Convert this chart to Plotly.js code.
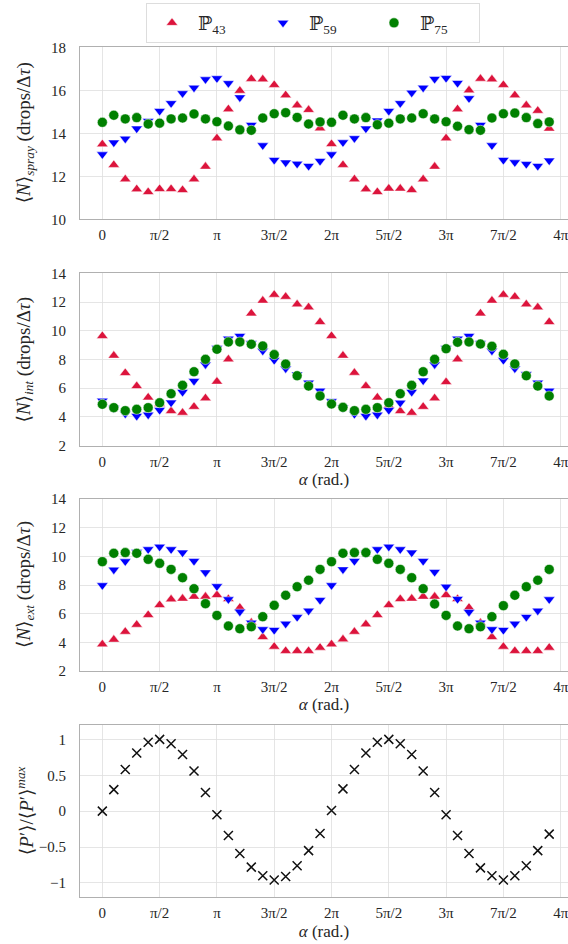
<!DOCTYPE html>
<html>
<head>
<meta charset="utf-8">
<script src="https://cdn.plot.ly/plotly-3.0.1.min.js"></script>
<style>
html,body{margin:0;padding:0;background:#fff;overflow:hidden;}
#chart{width:568px;height:944px;}
</style>
</head>
<body>
<div id="chart"></div>
<script>
// phase angle alpha, in tenths of pi
const alphaTenthsPi = [0,1,2,3,4,5,6,7,8,9,10,11,12,13,14,15,16,17,18,19,20,21,22,23,24,25,26,27,28,29,30,31,32,33,34,35,36,37,38,39];
const seriesNames = ["ℙ<sub>43</sub>", "ℙ<sub>59</sub>", "ℙ<sub>75</sub>"];

// <N>_spray
const spray43 = [13.49,12.53,11.86,11.40,11.27,11.41,11.41,11.36,11.86,12.45,13.77,15.12,15.98,16.53,16.51,16.25,15.77,15.30,15.09,14.23,13.50,12.53,11.86,11.40,11.27,11.43,11.43,11.36,11.86,12.45,13.77,15.12,16.00,16.54,16.51,16.25,15.77,15.30,15.05,14.22];
const spray59 = [13.02,13.57,13.75,14.22,14.57,15.04,15.40,15.86,16.12,16.51,16.56,16.33,15.67,14.39,13.44,12.76,12.64,12.58,12.48,12.71,13.02,13.58,13.77,14.22,14.59,15.04,15.40,15.89,16.12,16.53,16.57,16.34,15.63,14.39,13.44,12.76,12.65,12.57,12.48,12.73];
const spray75 = [14.51,14.84,14.67,14.73,14.43,14.47,14.67,14.71,14.90,14.67,14.54,14.34,14.16,14.14,14.71,14.91,14.96,14.74,14.43,14.53,14.51,14.84,14.67,14.73,14.40,14.47,14.67,14.71,14.91,14.67,14.54,14.33,14.17,14.14,14.71,14.91,14.94,14.73,14.45,14.53];

// <N>_int
const int43 = [9.64,8.27,7.06,6.15,5.36,4.90,4.41,4.30,4.71,5.30,6.46,8.01,9.45,11.21,12.10,12.51,12.37,11.84,11.63,10.61,9.64,8.27,7.08,6.15,5.36,4.78,4.41,4.30,4.71,5.30,6.43,8.01,9.40,11.21,12.10,12.51,12.37,11.84,11.63,10.61];
const int59 = [5.13,4.60,4.23,4.07,4.16,4.48,5.00,5.74,6.50,7.66,8.80,9.45,9.64,9.13,8.61,7.96,7.38,6.95,6.39,5.83,5.09,4.65,4.20,4.07,4.16,4.48,4.99,5.74,6.53,7.66,8.78,9.45,9.64,9.13,8.61,7.96,7.38,6.97,6.39,5.83];
const int75 = [4.88,4.65,4.44,4.53,4.65,4.99,5.62,6.20,7.15,8.01,8.71,9.22,9.22,9.06,8.94,8.34,7.68,6.87,6.15,5.46,4.90,4.67,4.44,4.53,4.65,4.99,5.62,6.20,7.15,8.01,8.75,9.20,9.22,9.08,8.92,8.36,7.69,6.87,6.15,5.46];

// <N>_ext
const ext43 = [3.86,4.19,4.74,5.23,5.91,6.60,7.00,7.05,7.19,7.19,7.30,7.02,6.42,5.38,4.37,3.70,3.40,3.40,3.40,3.63,3.86,4.21,4.74,5.26,5.91,6.60,7.02,7.05,7.19,7.19,7.30,7.02,6.42,5.37,4.37,3.70,3.40,3.40,3.40,3.63];
const ext59 = [7.98,9.07,9.65,10.30,10.49,10.67,10.49,10.26,9.67,8.88,7.91,7.00,6.14,5.37,4.91,4.86,5.30,5.76,6.21,6.95,7.98,9.09,9.67,10.21,10.49,10.67,10.49,10.26,9.67,8.91,7.88,7.02,6.12,5.37,4.91,4.86,5.30,5.77,6.21,7.00];
const ext75 = [9.63,10.21,10.26,10.21,9.79,9.51,9.09,8.51,7.74,6.70,5.88,5.14,4.95,5.09,5.79,6.58,7.28,7.88,8.33,9.09,9.63,10.21,10.26,10.26,9.79,9.51,9.09,8.51,7.74,6.67,5.88,5.14,4.95,5.09,5.79,6.56,7.28,7.88,8.33,9.09];

// <P'>/<P'>max
const pNorm = [0.00,0.30,0.58,0.81,0.96,1.00,0.94,0.79,0.56,0.26,-0.05,-0.34,-0.59,-0.78,-0.90,-0.96,-0.91,-0.76,-0.55,-0.31,0.01,0.31,0.58,0.81,0.96,1.00,0.94,0.79,0.56,0.26,-0.05,-0.34,-0.59,-0.79,-0.90,-0.96,-0.90,-0.76,-0.55,-0.32];

const tickVals = [0, 0.5, 1, 1.5, 2, 2.5, 3, 3.5, 4];
const tickText = ["0","π/2","π","3π/2","2π","5π/2","3π","7π/2","4π"];

const PI = Math.PI;
const alpha = alphaTenthsPi.map(v => v * PI / 10);

const FONT = "Liberation Serif, DejaVu Serif, serif";
const TXT = "#262626";
const colors = ["#dc143c", "#0000ff", "#008000"];
const symbols = ["triangle-up", "triangle-down", "circle"];
const sizes = [10, 10, 10];

const panels = [
  {data:[spray43, spray59, spray75], ax:""},
  {data:[int43, int59, int75], ax:"2"},
  {data:[ext43, ext59, ext75], ax:"3"},
];

const traces = [];
panels.forEach((p, pi) => {
  p.data.forEach((ys, si) => {
    traces.push({
      type: "scatter", mode: "markers",
      x: alpha, y: ys,
      xaxis: "x" + p.ax, yaxis: "y" + p.ax,
      name: seriesNames[si],
      legendgroup: "s" + si,
      showlegend: pi === 0,
      marker: {symbol: symbols[si], size: sizes[si], color: colors[si], line: {color: "#ffffff", width: 0.5}}
    });
  });
});
traces.push({
  type: "scatter", mode: "markers",
  x: alpha, y: pNorm, xaxis: "x4", yaxis: "y4",
  showlegend: false, name: "P",
  marker: {symbol: "x-thin", size: 9, color: "#000", line: {color: "#111", width: 1.5}}
});

const xRange = [-0.195 * PI, 4.064 * PI];
function xax(anchor, withTitle) {
  const a = {
    anchor: anchor, domain: [0, 1], range: xRange,
    tickvals: tickVals.map(v => v * PI), ticktext: tickText,
    showgrid: true, gridcolor: "#dedede", gridwidth: 0.8,
    zeroline: false, showline: true, linecolor: "#b0b0b0", linewidth: 1, mirror: true,
    ticks: "", ticklabelstandoff: 2, ticklabeloverflow: "allow",
    tickfont: {family: FONT, size: 15, color: TXT}
  };
  if (withTitle) {
    a.title = {text: "<i>α</i> (rad.)", font: {family: FONT, size: 17, color: TXT}, standoff: 4};
  }
  return a;
}
function yax(anchor, domain, range, tvals, ttext) {
  const a = {
    anchor: anchor, domain: domain, range: range,
    tickvals: tvals,
    showgrid: true, gridcolor: "#dedede", gridwidth: 0.8,
    zeroline: false, showline: true, linecolor: "#b0b0b0", linewidth: 1,
    ticks: "", ticklabelstandoff: 10,
    tickfont: {family: FONT, size: 15, color: TXT}
  };
  if (ttext) a.ticktext = ttext;
  return a;
}

const H = 944;
const dom = (top, bottom) => [1 - bottom / H, 1 - top / H];
const d1 = dom(47.3, 219.3), d2 = dom(273.3, 445.7), d3 = dom(499, 671), d4 = dom(725, 897.3);

const yTitles = [
  {text: "⟨<i>N</i>⟩<sub><i>spray</i></sub> (drops/Δ<i>τ</i>)", d: d1},
  {text: "⟨<i>N</i>⟩<sub><i>int</i></sub> (drops/Δ<i>τ</i>)", d: d2},
  {text: "⟨<i>N</i>⟩<sub><i>ext</i></sub> (drops/Δ<i>τ</i>)", d: d3},
  {text: "⟨<i>P</i>′⟩/⟨<i>P</i>′⟩<sup><i>max</i></sup>", d: d4},
];
const plotW = 568 - 80;
const annotations = yTitles.map(t => ({
  text: t.text, xref: "paper", yref: "paper",
  x: (25 - 80) / plotW, y: (t.d[0] + t.d[1]) / 2,
  xanchor: "center", yanchor: "middle", textangle: -90, showarrow: false,
  font: {family: FONT, size: 19, color: TXT}
}));

const layout = {
  width: 568, height: 944,
  margin: {l: 80, r: 0, t: 0, b: 0},
  paper_bgcolor: "#ffffff", plot_bgcolor: "#ffffff",
  showlegend: true,
  legend: {
    orientation: "h", x: (146 - 80) / plotW, xanchor: "left", y: 1 - 3 / H, yanchor: "top",
    bordercolor: "#dddddd", borderwidth: 1, bgcolor: "#ffffff",
    font: {family: FONT, size: 19, color: TXT},
    entrywidth: 54, entrywidthmode: "pixels", itemwidth: 42
  },
  xaxis: xax("y", false),
  xaxis2: xax("y2", true),
  xaxis3: xax("y3", true),
  xaxis4: xax("y4", true),
  yaxis: yax("x", d1, [10, 18], [10, 12, 14, 16, 18]),
  yaxis2: yax("x2", d2, [2, 14], [2, 4, 6, 8, 10, 12, 14]),
  yaxis3: yax("x3", d3, [2, 14], [2, 4, 6, 8, 10, 12, 14]),
  yaxis4: yax("x4", d4, [-1.2, 1.2], [-1, -0.5, 0, 0.5, 1], ["−1", "−0.5", "0", "0.5", "1"]),
  annotations: annotations
};

Plotly.newPlot("chart", traces, layout, {displayModeBar: false, staticPlot: true});
</script>
</body>
</html>
